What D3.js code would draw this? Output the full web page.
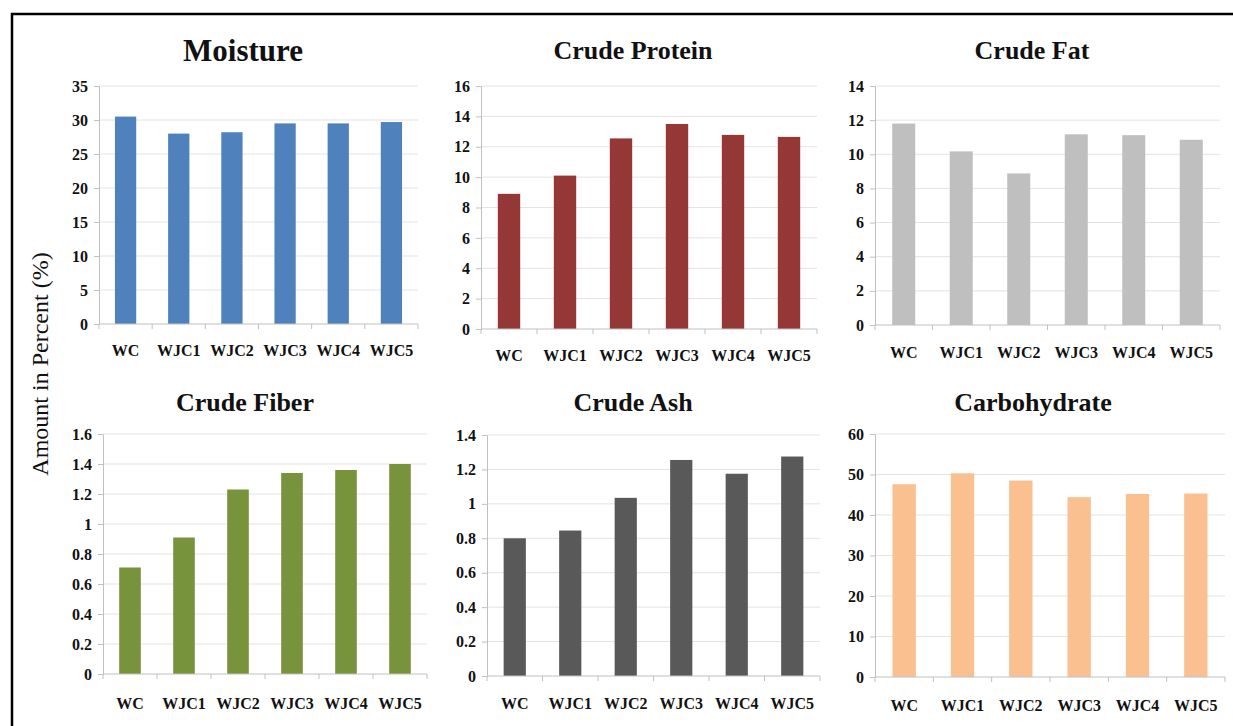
<!DOCTYPE html>
<html><head><meta charset="utf-8">
<script src="https://cdn.jsdelivr.net/npm/d3@7"></script>
<style>body{margin:0;background:#fff}svg{display:block}</style>
</head><body>
<svg id="c" width="1233" height="726"></svg>
<script>
const categories = ["WC","WJC1","WJC2","WJC3","WJC4","WJC5"];
const titles = ["Moisture","Crude Protein","Crude Fat","Crude Fiber","Crude Ash","Carbohydrate"];
const moisture = [30.5, 28.0, 28.2, 29.5, 29.5, 29.7];
const crudeProtein = [8.9, 10.1, 12.55, 13.5, 12.78, 12.65];
const crudeFat = [11.8, 10.17, 8.88, 11.17, 11.12, 10.85];
const crudeFiber = [0.71, 0.91, 1.23, 1.34, 1.36, 1.40];
const crudeAsh = [0.80, 0.845, 1.035, 1.255, 1.175, 1.275];
const carbohydrate = [47.6, 50.3, 48.5, 44.4, 45.2, 45.3];
const yTicks1 = [0,5,10,15,20,25,30,35];
const yTicks2 = [0,2,4,6,8,10,12,14,16];
const yTicks3 = [0,2,4,6,8,10,12,14];
const yTicks4 = [0,0.2,0.4,0.6,0.8,1,1.2,1.4,1.6];
const yTicks5 = [0,0.2,0.4,0.6,0.8,1,1.2,1.4];
const yTicks6 = [0,10,20,30,40,50,60];
const yLabel = "Amount in Percent  (%)";

const series = [moisture, crudeProtein, crudeFat, crudeFiber, crudeAsh, carbohydrate];
const tickSets = [yTicks1, yTicks2, yTicks3, yTicks4, yTicks5, yTicks6];
const colors = ["#4F81BD","#953735","#BFBFBF","#77933C","#595959","#FAC090"];
// layout: [x0, x1, yTop, yBottom, titleX, titleY, titleSize, labelY]
const layout = [
  [99, 418, 86, 324, 243, 61, 31, 356],
  [481, 817, 86, 329, 633, 59, 26, 361],
  [875, 1220, 86, 325, 1032, 59, 26, 358],
  [103, 427, 434, 674, 245, 411, 26, 709],
  [487, 820, 435, 676, 633, 411, 26, 709],
  [875, 1225, 434, 677, 1033, 411, 26, 711]
];
const serif = "'Liberation Serif','Times New Roman',serif";
const svg = d3.select("#c");

// frame
svg.append("path").attr("d","M12,726 L12,14 L1233,14").attr("fill","none").attr("stroke","#000").attr("stroke-width",2.5);

series.forEach((vals, i) => {
  const [x0,x1,yT,yB,tx,ty,ts,ly] = layout[i];
  const ticks = tickSets[i];
  const ymax = ticks[ticks.length-1];
  const x = d3.scaleBand().domain(categories).range([x0,x1]).paddingInner(0.6).paddingOuter(0.3);
  const y = d3.scaleLinear().domain([0,ymax]).range([yB,yT]);
  const g = svg.append("g");
  g.selectAll(".grid").data(ticks.slice(1)).enter().append("line")
    .attr("x1",x0).attr("x2",x1).attr("y1",d=>y(d)).attr("y2",d=>y(d))
    .attr("stroke","#e3e3e3").attr("stroke-width",1);
  g.selectAll(".bar").data(vals).enter().append("rect")
    .attr("x",(d,j)=>x(categories[j])).attr("width",x.bandwidth())
    .attr("y",d=>y(d)).attr("height",d=>yB-y(d)).attr("fill",colors[i]);
  const ya = g.append("g").attr("transform",`translate(${x0},0)`)
    .call(d3.axisLeft(y).tickValues(ticks).tickSize(5).tickSizeOuter(0).tickPadding(6).tickFormat(d3.format("")));
  ya.select(".domain").attr("stroke","#c0c0c0");
  ya.selectAll(".tick line").attr("stroke","#c0c0c0");
  ya.selectAll("text").attr("font-family",serif).attr("font-weight","bold").attr("font-size",16).attr("fill","#111");
  const xa = g.append("g").attr("transform",`translate(0,${yB})`);
  xa.append("line").attr("x1",x0).attr("x2",x1).attr("y1",0).attr("y2",0).attr("stroke","#c0c0c0");
  const bounds = categories.map(c => x(c) - x.step()*x.paddingInner()/2).concat([x1]);
  xa.selectAll(".xt").data(bounds).enter().append("line")
    .attr("x1",d=>d).attr("x2",d=>d).attr("y1",0).attr("y2",5).attr("stroke","#c0c0c0");
  svg.append("g").selectAll("text").data(categories).enter().append("text")
    .attr("x",d=>x(d)+x.bandwidth()/2).attr("y",ly).attr("text-anchor","middle")
    .attr("font-family",serif).attr("font-weight","bold").attr("font-size",16).attr("fill","#111")
    .text(d=>d);
  svg.append("text").attr("x",tx).attr("y",ty).attr("text-anchor","middle")
    .attr("font-family",serif).attr("font-weight","bold").attr("font-size",ts).attr("fill","#111")
    .text(titles[i]);
});

svg.append("text").attr("transform","translate(48,364) rotate(-90)").attr("text-anchor","middle")
  .attr("font-family",serif).attr("font-size",24).attr("fill","#111").text(yLabel);
</script>
</body></html>
